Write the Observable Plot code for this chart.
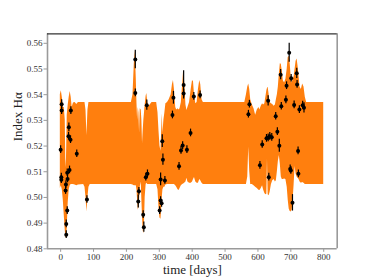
<!DOCTYPE html>
<html><head><meta charset="utf-8">
<script src="https://cdn.jsdelivr.net/npm/d3@7"></script>
<script src="https://cdn.jsdelivr.net/npm/@observablehq/plot@0.6"></script>
<style>
html,body{margin:0;padding:0;background:#fff;}
#chart{width:374px;height:280px;}
</style></head><body><div id="chart"></div>
<script>
// GP prediction band (time in days, lower and upper bound)
const bandT = [-1,2,5,8,11,14,15.5,17,18.5,20,23,26,29,32,35,39,44,49,54,70,74,77,80,83,86,90,215,220,224,227,230,232,234,236,238,240,242,245,247,249,251,253,255,257,260,262,265,268,272,278,292,296,299,302,305,307,309,311,314,317,320,325,330,336,340,343,346,350,353,357,360,363,367,371,374,377,381,384,387,392,397,401,404,407,411,415,419,423,426,430,434,560,565,569,572,575,578,583,588,593,598,603,606,610,614,617,621,624,627,629,631,634,637,641,645,649,653,656,659,662,665,668,671,674,677,681,685,689,692,695,698,701,704,707,710,713,716,719,722,725,728,732,736,740,744,748,800];
const bandLo = [0.5035,0.5045,0.5030,0.4990,0.4930,0.4870,0.4850,0.4840,0.4850,0.4880,0.4980,0.5030,0.5045,0.5050,0.5050,0.5050,0.5048,0.5045,0.5048,0.5050,0.5040,0.5000,0.4943,0.5000,0.5040,0.5050,0.5050,0.5048,0.5045,0.5045,0.5045,0.5030,0.4990,0.4950,0.4960,0.4990,0.5040,0.5060,0.4990,0.4920,0.4870,0.4858,0.4900,0.5000,0.5050,0.5055,0.5050,0.5050,0.5050,0.5050,0.5050,0.5030,0.4960,0.4920,0.4915,0.4950,0.5000,0.5030,0.5040,0.5040,0.5048,0.5050,0.5050,0.5050,0.5050,0.5050,0.5050,0.5045,0.5040,0.5030,0.5027,0.5035,0.5045,0.5050,0.5052,0.5055,0.5060,0.5075,0.5060,0.5055,0.5055,0.5060,0.5070,0.5078,0.5060,0.5055,0.5055,0.5070,0.5065,0.5055,0.5050,0.5050,0.5050,0.5080,0.5195,0.5100,0.5050,0.5050,0.5045,0.5040,0.5035,0.5028,0.5027,0.5035,0.5045,0.5030,0.5015,0.5010,0.5012,0.5150,0.5010,0.5007,0.5020,0.5050,0.5065,0.5070,0.5060,0.5065,0.5100,0.5140,0.5163,0.5130,0.5080,0.5070,0.5070,0.5072,0.5070,0.5040,0.4990,0.4955,0.4945,0.4943,0.4950,0.4990,0.5050,0.5120,0.5090,0.5080,0.5075,0.5070,0.5060,0.5055,0.5058,0.5055,0.5050,0.5050,0.5050];
const bandHi = [0.5400,0.5415,0.5390,0.5350,0.5350,0.5300,0.5150,0.5115,0.5200,0.5320,0.5360,0.5390,0.5412,0.5390,0.5350,0.5368,0.5370,0.5362,0.5370,0.5370,0.5370,0.5340,0.5240,0.5340,0.5370,0.5370,0.5370,0.5400,0.5520,0.5572,0.5460,0.5370,0.5300,0.5350,0.5330,0.5250,0.5345,0.5340,0.5300,0.5210,0.5260,0.5300,0.5330,0.5360,0.5395,0.5405,0.5370,0.5352,0.5360,0.5370,0.5370,0.5330,0.5260,0.5200,0.5180,0.5250,0.5326,0.5250,0.5300,0.5330,0.5365,0.5370,0.5380,0.5400,0.5440,0.5455,0.5420,0.5350,0.5340,0.5345,0.5340,0.5345,0.5370,0.5440,0.5494,0.5450,0.5360,0.5338,0.5350,0.5370,0.5420,0.5455,0.5450,0.5400,0.5365,0.5370,0.5420,0.5455,0.5440,0.5380,0.5370,0.5370,0.5400,0.5430,0.5442,0.5420,0.5380,0.5360,0.5345,0.5320,0.5340,0.5350,0.5340,0.5355,0.5365,0.5360,0.5365,0.5390,0.5415,0.5425,0.5429,0.5400,0.5370,0.5365,0.5362,0.5355,0.5360,0.5380,0.5400,0.5430,0.5480,0.5520,0.5518,0.5490,0.5455,0.5445,0.5460,0.5500,0.5545,0.5550,0.5520,0.5470,0.5445,0.5460,0.5470,0.5500,0.5530,0.5539,0.5510,0.5470,0.5430,0.5420,0.5442,0.5430,0.5390,0.5370,0.5370];

// Observations with error bars
const obsT = [3,3,31,25,24,30,0,49,2,2,27,20,21,16,15,20,17,17,80,227,227,262,236,238,251,253,259,264,301,304,307,304,317,311,309,340,343,360,366,371,384,395,374,374,405,424,571,574,606,613,626,631,636,642,659,665,633,631,654,669,671,685,687,695,701,710,718,719,726,736,740,698,700,705,722,723];
const obsY = [0.5363,0.5338,0.5338,0.5273,0.5238,0.5225,0.5186,0.5170,0.5079,0.5069,0.5107,0.5096,0.5072,0.5050,0.5027,0.4949,0.4897,0.4855,0.4992,0.5537,0.5407,0.5359,0.4984,0.5024,0.4933,0.4884,0.5079,0.5092,0.4949,0.4988,0.4977,0.5070,0.5066,0.5147,0.5219,0.5321,0.5388,0.5121,0.5183,0.5202,0.5186,0.5251,0.5438,0.5405,0.5393,0.5399,0.5324,0.5363,0.5125,0.5206,0.5230,0.5232,0.5238,0.5234,0.5256,0.5201,0.5079,0.5376,0.5316,0.5478,0.5355,0.5380,0.5435,0.5563,0.5464,0.5360,0.5483,0.5440,0.5342,0.5359,0.5349,0.5111,0.5105,0.4979,0.5181,0.5092];
const obsErr = [0.0017,0.0015,0.0015,0.0017,0.0015,0.0015,0.0015,0.0015,0.0015,0.0015,0.0015,0.0015,0.0015,0.0015,0.0015,0.0015,0.0015,0.0015,0.0015,0.0036,0.0015,0.0020,0.0025,0.0015,0.0015,0.0020,0.0015,0.0015,0.0015,0.0015,0.0015,0.0025,0.0015,0.0022,0.0025,0.0015,0.0025,0.0015,0.0015,0.0015,0.0015,0.0015,0.0055,0.0015,0.0015,0.0015,0.0015,0.0015,0.0015,0.0015,0.0015,0.0015,0.0015,0.0015,0.0015,0.0025,0.0015,0.0020,0.0015,0.0020,0.0015,0.0015,0.0015,0.0037,0.0015,0.0015,0.0020,0.0015,0.0015,0.0015,0.0020,0.0015,0.0015,0.0032,0.0015,0.0015];

const xTicks = [0,100,200,300,400,500,600,700,800];
const yTicks = [0.48,0.49,0.50,0.51,0.52,0.53,0.54,0.55,0.56];
const xDomain = [-40, 841];
const yDomain = [0.48, 0.5637];

const band = bandT.map((t,i) => ({t, lo: bandLo[i], hi: bandHi[i]}));
const obs = obsT.map((t,i) => ({t, y: obsY[i], e: obsErr[i]}));

const chart = Plot.plot({
  width: 374, height: 280,
  marginLeft: 47, marginRight: 37.3, marginTop: 33.3, marginBottom: 31.7,
  style: {fontFamily: "'Liberation Serif', 'DejaVu Serif', serif", background: "#fff", color: "#222"},
  x: {domain: xDomain},
  y: {domain: yDomain},
  marks: [
    Plot.areaY(band, {x: "t", y1: "lo", y2: "hi", fill: "#ff7f0e"}),
    Plot.ruleX(obs, {x: "t", y1: d => d.y - d.e, y2: d => d.y + d.e, stroke: "#000", strokeWidth: 1.2}),
    Plot.dot(obs, {x: "t", y: "y", r: 2.0, fill: "#000"}),
    Plot.ruleX([xDomain[0], xDomain[1]], {stroke: "#9a9a9a", strokeWidth: 1.6}),
    Plot.ruleY([yDomain[0]], {stroke: "#9a9a9a", strokeWidth: 1.6}),
    Plot.ruleY([yDomain[1]], {stroke: "#333", strokeWidth: 1.2}),
    Plot.axisX({ticks: xTicks, tickFormat: d3.format("d"), tickSize: 3.5, tickPadding: 1.5, fontSize: 9, stroke: "#9a9a9a", fill: "#333", label: null}),
    Plot.axisY({ticks: yTicks, tickFormat: d3.format(".2f"), tickSize: 3.5, tickPadding: 1.5, fontSize: 9, stroke: "#9a9a9a", fill: "#333", label: null}),
    Plot.text(["time [days]"], {frameAnchor: "bottom", dy: 25, fontSize: 13, fill: "#222"}),
    Plot.text(["Index Hα"], {frameAnchor: "left", rotate: -90, dx: -30, fontSize: 13, fill: "#222"})
  ]
});
document.getElementById("chart").appendChild(chart);
</script>
</body></html>
